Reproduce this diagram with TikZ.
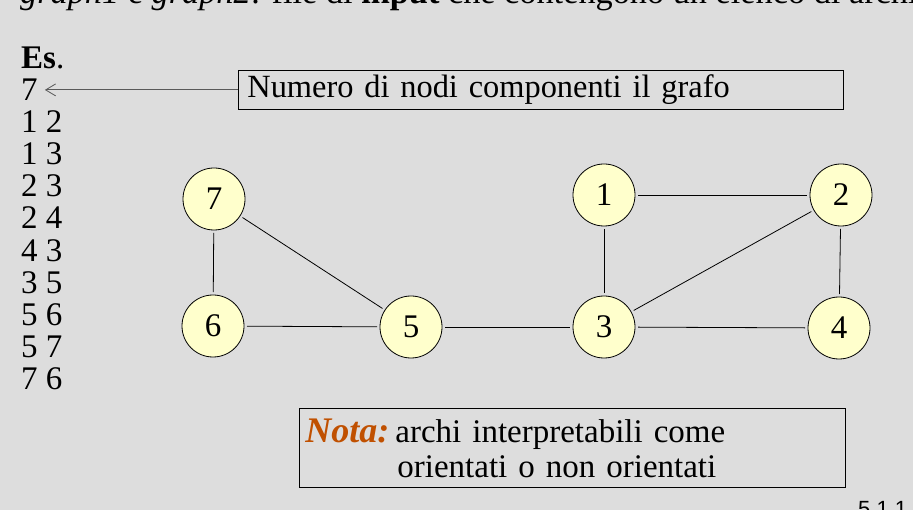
\documentclass[tikz,border=0pt]{standalone}
\usepackage{fontspec}
\setmainfont{Liberation Serif}
\newfontfamily\slidesans{Liberation Sans}
\usepackage{xcolor}
\usepackage{tikz}
\usetikzlibrary{positioning,arrows.meta}
\definecolor{slidebg}{RGB}{221,221,221}
\definecolor{nodefill}{RGB}{255,255,204}
\definecolor{notacol}{RGB}{192,80,0}
\tikzset{
  vertex/.style={
    draw,
    circle,
    fill=nodefill,
    minimum size=62pt,
    inner sep=0pt,
    outer sep=3pt,
    line width=0.8pt,
    font=\fontsize{33}{40}\selectfont
  },
  edgeline/.style={
    line width=0.8pt
  },
  textbox/.style={
    draw,
    line width=0.8pt,
    align=left,
    inner xsep=9pt,
    font=\fontsize{32.4}{35}\selectfont
  },
  listrow/.style={
    anchor=base west,
    inner sep=0pt,
    font=\fontsize{33}{40}\selectfont
  },
  pointer/.style={
    -{Straight Barb[length=10pt,width=12pt]},
    line width=0.8pt,
    black!65
  }
}

\begin{document}
\begin{tikzpicture}[x=1pt,y=-1pt]

\useasboundingbox (0,0) rectangle (913,510);
\fill[slidebg] (0,0) rectangle (913,510);
\clip (0,0) rectangle (913,510);

% slide text cut at the top and page number
\node[listrow, font=\fontsize{34.3}{40}\selectfont] (heading) at (20,4) {\textit{graph1} e \textit{graph2}: file di \textbf{input} che contengono un elenco di archi};
\node[anchor=base west, inner sep=0pt, font=\slidesans\fontsize{22}{26}\selectfont] (pagenum) at (858,516) {5.1.1};

% example input file
\node[listrow] (es) at (21,69) {\textbf{Es}.};
\node[listrow] (row0) at (21,101) {7};
\node[listrow] (row1) at (21,133) {1 2};
\node[listrow] (row2) at (21,165) {1 3};
\node[listrow] (row3) at (21,197) {2 3};
\node[listrow] (row4) at (21,229) {2 4};
\node[listrow] (row5) at (21,262) {4 3};
\node[listrow] (row6) at (21,294) {3 5};
\node[listrow] (row7) at (21,326) {5 6};
\node[listrow] (row8) at (21,358) {5 7};
\node[listrow] (row9) at (21,390) {7 6};

\node[textbox, anchor=north west, text width=587pt, minimum height=39pt] (numnodi) at (238,70) {Numero di nodi componenti il grafo};

\draw[pointer] (numnodi.west) -- ([xshift=7pt]numnodi.west -| row0.east);

% graph
\node[vertex] (v7) at (214,199) {7};
\node[vertex] (v6) at (213,326) {6};
\node[vertex] (v5) at (411,327) {5};
\node[vertex] (v3) at (604,327) {3};
\node[vertex] (v1) at (604,195) {1};
\node[vertex] (v2) at (841,195) {2};
\node[vertex] (v4) at (839,328) {4};

\draw[edgeline] (v7) -- (v6);
\draw[edgeline] (v7) -- (v5);
\draw[edgeline] (v6) -- (v5);
\draw[edgeline] (v5) -- (v3);
\draw[edgeline] (v1) -- (v3);
\draw[edgeline] (v1) -- (v2);
\draw[edgeline] (v2) -- (v3);
\draw[edgeline] (v2) -- (v4);
\draw[edgeline] (v3) -- (v4);

\node[textbox, anchor=north west, inner xsep=6pt, text width=534pt, minimum height=79pt, font=\fontsize{33}{35}\selectfont] (nota) at (299,408) {{\fontsize{36}{35}\selectfont\color{notacol}\textbf{\textit{Nota:}}}\hspace{6pt}archi interpretabili come\\\hspace*{92pt}orientati o non orientati};

\end{tikzpicture}
\end{document}
